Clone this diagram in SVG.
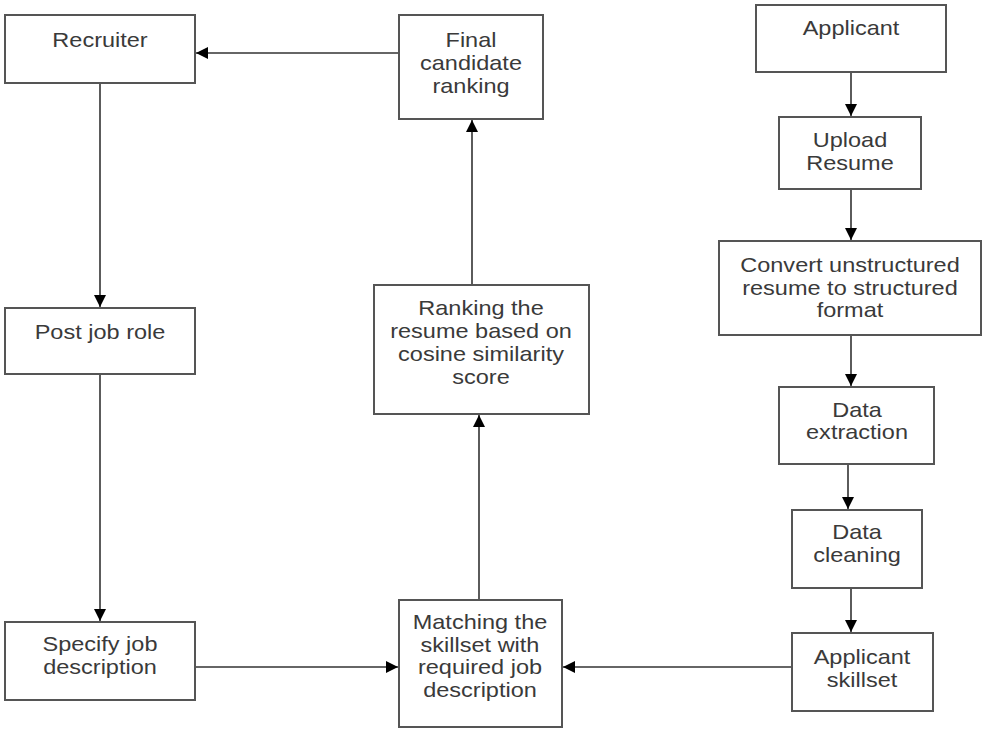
<svg xmlns="http://www.w3.org/2000/svg" width="982" height="729" viewBox="0 0 982 729">
<style>
.box{fill:#fff;stroke:#555;stroke-width:2}
.lbl{font-family:"Liberation Sans",Arial,sans-serif;font-size:21px;fill:#3a3a3a;text-anchor:middle}
.con{fill:none;stroke:#333;stroke-width:1.6}
</style>
<defs>
<marker id="ah" markerUnits="userSpaceOnUse" markerWidth="13" markerHeight="12" refX="12" refY="6" orient="auto">
<path d="M0,0 L12,6 L0,12 z" fill="#000"/>
</marker>
</defs>
<rect width="982" height="729" fill="#fff"/>
<g id="connectors">
<line class="con" x1="399" y1="53" x2="196" y2="53" marker-end="url(#ah)"/>
<line class="con" x1="100" y1="83" x2="100" y2="307" marker-end="url(#ah)"/>
<line class="con" x1="100" y1="374" x2="100" y2="621" marker-end="url(#ah)"/>
<line class="con" x1="195" y1="667" x2="398" y2="667" marker-end="url(#ah)"/>
<line class="con" x1="792" y1="667" x2="563" y2="667" marker-end="url(#ah)"/>
<line class="con" x1="479" y1="600" x2="479" y2="415" marker-end="url(#ah)"/>
<line class="con" x1="472" y1="285" x2="472" y2="120" marker-end="url(#ah)"/>
<line class="con" x1="851" y1="72" x2="851" y2="116" marker-end="url(#ah)"/>
<line class="con" x1="851" y1="189" x2="851" y2="240" marker-end="url(#ah)"/>
<line class="con" x1="851" y1="335" x2="851" y2="386" marker-end="url(#ah)"/>
<line class="con" x1="848" y1="464" x2="848" y2="509" marker-end="url(#ah)"/>
<line class="con" x1="851" y1="588" x2="851" y2="632" marker-end="url(#ah)"/>
</g>
<g id="recruiter">
<rect class="box" x="5" y="15" width="190" height="68"/>
<text class="lbl" transform="matrix(1.12 0 0 1 100 0)"><tspan x="0" y="47">Recruiter</tspan></text>
</g>
<g id="final">
<rect class="box" x="399" y="15" width="144" height="104"/>
<text class="lbl" transform="matrix(1.12 0 0 1 471 0)"><tspan x="0" y="47">Final</tspan><tspan x="0" y="70">candidate</tspan><tspan x="0" y="93">ranking</tspan></text>
</g>
<g id="applicant">
<rect class="box" x="756" y="5" width="190" height="67"/>
<text class="lbl" transform="matrix(1.12 0 0 1 851 0)"><tspan x="0" y="35">Applicant</tspan></text>
</g>
<g id="upload">
<rect class="box" x="779" y="117" width="142" height="72"/>
<text class="lbl" transform="matrix(1.12 0 0 1 850 0)"><tspan x="0" y="147">Upload</tspan><tspan x="0" y="170">Resume</tspan></text>
</g>
<g id="convert">
<rect class="box" x="719" y="241" width="262" height="94"/>
<text class="lbl" transform="matrix(1.12 0 0 1 850 0)"><tspan x="0" y="272">Convert unstructured</tspan><tspan x="0" y="295">resume to structured</tspan><tspan x="0" y="317">format</tspan></text>
</g>
<g id="extraction">
<rect class="box" x="779" y="387" width="155" height="77"/>
<text class="lbl" transform="matrix(1.12 0 0 1 857 0)"><tspan x="0" y="417">Data</tspan><tspan x="0" y="439">extraction</tspan></text>
</g>
<g id="cleaning">
<rect class="box" x="792" y="510" width="130" height="78"/>
<text class="lbl" transform="matrix(1.12 0 0 1 857 0)"><tspan x="0" y="539">Data</tspan><tspan x="0" y="562">cleaning</tspan></text>
</g>
<g id="skillset">
<rect class="box" x="792" y="633" width="141" height="78"/>
<text class="lbl" transform="matrix(1.12 0 0 1 862 0)"><tspan x="0" y="664">Applicant</tspan><tspan x="0" y="687">skillset</tspan></text>
</g>
<g id="matching">
<rect class="box" x="399" y="600" width="163" height="127"/>
<text class="lbl" transform="matrix(1.12 0 0 1 480 0)"><tspan x="0" y="629">Matching the</tspan><tspan x="0" y="652">skillset with</tspan><tspan x="0" y="674">required job</tspan><tspan x="0" y="697">description</tspan></text>
</g>
<g id="specify">
<rect class="box" x="5" y="622" width="190" height="78"/>
<text class="lbl" transform="matrix(1.12 0 0 1 100 0)"><tspan x="0" y="651">Specify job</tspan><tspan x="0" y="674">description</tspan></text>
</g>
<g id="post">
<rect class="box" x="5" y="308" width="190" height="66"/>
<text class="lbl" transform="matrix(1.12 0 0 1 100 0)"><tspan x="0" y="339">Post job role</tspan></text>
</g>
<g id="ranking">
<rect class="box" x="374" y="285" width="215" height="129"/>
<text class="lbl" transform="matrix(1.12 0 0 1 481 0)"><tspan x="0" y="315">Ranking the</tspan><tspan x="0" y="338">resume based on</tspan><tspan x="0" y="361">cosine similarity</tspan><tspan x="0" y="384">score</tspan></text>
</g>
</svg>
